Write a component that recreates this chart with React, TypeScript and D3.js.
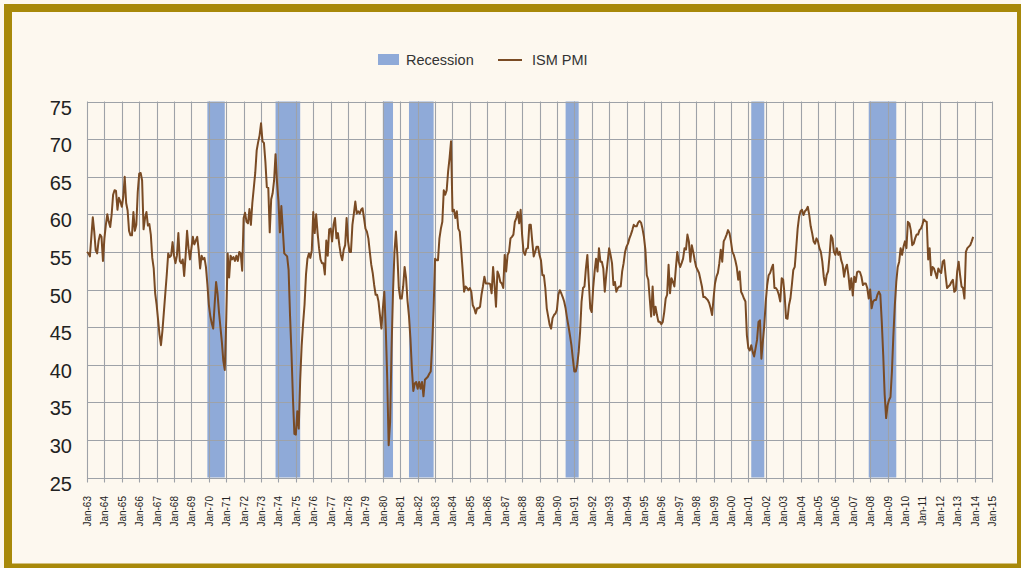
import React, { useEffect, useRef } from 'react';
import * as d3 from 'd3';

const WIDTH = 1021;
const HEIGHT = 568;
const PLOT = { left: 87, right: 992, top: 101.5, bottom: 477.5 };

const FIRST_YEAR = 1963;
const LAST_YEAR = 2015;

const yTicks = [25, 30, 35, 40, 45, 50, 55, 60, 65, 70, 75];

// NBER recessions, first and last month
const recessionStart = ['1969-12', '1973-11', '1980-01', '1981-07', '1990-07', '2001-03', '2007-12'];
const recessionEnd = ['1970-11', '1975-03', '1980-07', '1982-11', '1991-03', '2001-11', '2009-06'];

// ISM PMI, monthly from Jan 1963
const pmi = [
  55.0, 54.8, 54.4, 57.0, 59.6, 57.7, 55.2, 54.8, 56.5, 57.3, 57.0, 53.8, // 1963
  56.8, 58.6, 60.0, 59.0, 58.3, 60.0, 62.6, 63.2, 63.1, 60.6, 62.2, 61.7, // 1964
  61.0, 62.3, 65.0, 61.5, 60.5, 57.8, 57.2, 57.2, 60.3, 57.8, 58.6, 63.0, // 1965
  65.4, 65.5, 64.5, 58.0, 59.5, 60.3, 58.5, 58.7, 57.3, 54.2, 52.8, 49.5, // 1966
  48.0, 46.0, 44.0, 42.6, 44.5, 47.0, 49.5, 52.0, 54.8, 54.3, 54.5, 56.3, // 1967
  54.5, 53.5, 54.5, 57.5, 53.8, 53.5, 54.0, 51.8, 54.5, 57.8, 55.5, 54.0, // 1968
  55.5, 57.0, 56.0, 56.5, 57.0, 55.2, 52.8, 54.5, 54.0, 54.2, 53.0, 50.7, // 1969
  48.0, 46.5, 45.5, 44.8, 48.0, 51.0, 49.5, 47.0, 45.0, 43.0, 40.5, 39.3, // 1970
  46.0, 54.8, 51.6, 54.5, 54.0, 54.3, 53.8, 54.5, 53.8, 55.0, 54.8, 52.5, // 1971
  59.5, 60.2, 59.0, 58.8, 60.7, 58.6, 61.5, 63.5, 65.5, 68.5, 69.6, 70.5, // 1972
  72.1, 69.7, 69.5, 67.0, 63.6, 63.5, 57.6, 62.0, 62.8, 64.5, 68.0, 64.3, // 1973
  61.8, 57.6, 61.1, 58.0, 54.8, 54.6, 54.4, 52.6, 46.5, 41.5, 35.5, 30.8, // 1974
  30.7, 33.8, 31.5, 38.0, 42.5, 45.5, 48.0, 52.0, 54.1, 54.8, 54.2, 55.2, // 1975
  60.3, 57.5, 60.0, 57.5, 55.5, 54.0, 53.5, 53.5, 52.0, 56.5, 54.5, 58.0, // 1976
  58.1, 56.4, 58.6, 59.5, 56.8, 57.5, 55.9, 54.6, 53.9, 55.3, 55.9, 59.5, // 1977
  56.4, 55.0, 55.0, 58.6, 60.1, 61.7, 60.1, 60.4, 60.1, 60.6, 60.8, 59.5, // 1978
  58.1, 57.7, 56.8, 55.0, 53.3, 52.2, 50.6, 49.3, 49.3, 48.4, 46.6, 44.8, // 1979
  47.5, 49.7, 44.8, 38.2, 29.3, 32.4, 42.2, 49.7, 55.0, 57.7, 54.6, 50.2, // 1980
  48.8, 48.8, 50.4, 53.0, 51.5, 48.5, 46.5, 43.5, 39.5, 36.5, 37.5, 37.7, // 1981
  36.8, 37.7, 36.8, 37.7, 35.8, 38.0, 38.2, 38.4, 38.8, 39.1, 42.6, 47.5, // 1982
  54.1, 53.9, 53.9, 56.8, 58.1, 59.0, 63.2, 62.6, 63.2, 65.7, 67.5, 69.7, // 1983
  60.4, 60.6, 59.5, 60.4, 58.1, 57.7, 55.3, 52.6, 49.7, 50.4, 50.2, 49.9, // 1984
  50.2, 49.7, 47.9, 47.5, 46.8, 47.5, 47.5, 47.7, 49.3, 50.4, 51.7, 50.8, // 1985
  50.8, 50.8, 50.7, 49.5, 53.0, 50.6, 47.7, 52.4, 51.9, 51.0, 50.8, 50.2, // 1986
  54.6, 52.4, 54.6, 55.0, 56.8, 57.0, 57.3, 59.0, 59.5, 60.3, 58.8, 60.6, // 1987
  57.3, 55.0, 54.6, 55.4, 55.5, 58.6, 58.6, 56.4, 54.4, 55.0, 55.7, 55.7, // 1988
  54.6, 53.9, 51.9, 51.9, 50.2, 47.5, 46.4, 45.3, 44.8, 46.2, 46.6, 46.8, // 1989
  47.3, 49.3, 49.9, 49.5, 49.0, 48.4, 47.5, 46.2, 45.1, 43.9, 42.6, 40.8, // 1990
  39.1, 39.1, 40.0, 41.7, 44.4, 48.4, 50.2, 50.4, 52.8, 54.6, 51.0, 47.5, // 1991
  47.0, 50.2, 52.4, 54.1, 52.4, 55.5, 53.7, 53.7, 52.8, 49.7, 51.9, 53.7, // 1992
  55.5, 54.6, 53.5, 50.6, 51.0, 49.7, 50.2, 50.4, 50.4, 52.4, 53.5, 55.0, // 1993
  55.7, 56.1, 56.8, 57.3, 57.9, 58.6, 58.4, 58.4, 58.9, 59.1, 58.9, 58.1, // 1994
  57.0, 55.3, 51.9, 51.3, 48.8, 46.4, 50.4, 46.6, 47.7, 46.6, 45.7, 45.7, // 1995
  45.4, 45.7, 47.0, 48.8, 49.3, 53.3, 49.5, 51.5, 51.0, 50.4, 52.8, 55.0, // 1996
  53.7, 53.0, 53.5, 54.1, 55.5, 55.3, 57.3, 56.4, 53.7, 55.9, 55.0, 53.9, // 1997
  53.0, 52.6, 52.2, 51.3, 50.4, 49.0, 49.0, 48.8, 48.6, 48.2, 47.5, 46.6, // 1998
  48.8, 50.8, 51.7, 52.2, 53.5, 55.3, 53.7, 56.4, 56.8, 57.3, 57.9, 57.5, // 1999
  56.4, 55.0, 54.6, 53.9, 53.0, 51.3, 52.4, 49.7, 49.3, 48.8, 48.4, 43.9, // 2000
  42.2, 41.9, 42.6, 41.7, 41.1, 42.2, 43.3, 45.7, 45.9, 40.8, 43.1, 45.3, // 2001
  48.4, 50.6, 51.9, 52.2, 52.8, 53.3, 50.2, 50.2, 49.9, 49.3, 48.4, 51.5, // 2002
  51.3, 49.3, 46.2, 46.1, 47.9, 48.8, 50.6, 52.6, 53.0, 55.5, 58.1, 59.7, // 2003
  60.4, 60.6, 59.9, 60.4, 60.6, 61.0, 59.9, 58.4, 57.5, 56.4, 56.1, 56.8, // 2004
  56.4, 55.5, 55.0, 53.7, 51.7, 50.6, 51.9, 52.4, 54.5, 57.2, 56.8, 55.0, // 2005
  54.6, 55.5, 54.6, 55.0, 53.9, 53.3, 51.7, 52.8, 53.3, 51.9, 50.0, 51.5, // 2006
  49.2, 51.7, 51.0, 52.3, 52.4, 52.3, 51.7, 50.6, 50.8, 50.8, 50.2, 48.8, // 2007
  50.0, 47.5, 48.4, 48.6, 48.6, 49.3, 49.7, 49.3, 45.7, 41.3, 36.0, 32.9, // 2008
  34.6, 35.3, 35.7, 39.1, 43.9, 47.9, 51.0, 53.0, 53.7, 55.5, 54.6, 55.7, // 2009
  56.4, 55.5, 59.0, 58.8, 57.9, 55.9, 56.1, 56.8, 57.3, 57.3, 57.9, 58.1, // 2010
  58.6, 59.3, 59.1, 59.0, 54.0, 55.5, 51.9, 53.0, 52.8, 52.2, 51.5, 52.8, // 2011
  52.4, 52.2, 53.7, 53.9, 51.9, 50.2, 50.4, 50.6, 51.0, 51.3, 49.7, 49.9, // 2012
  52.4, 53.7, 51.9, 50.4, 50.2, 48.8, 55.0, 55.5, 55.7, 55.9, 56.4, 57.0, // 2013
];

const BG = '#fdf8ef';
const GOLD = '#a8890a';
const GRID = '#9ea2a8';
const BAR = '#8faad8';
const LINE = '#7a4b24';
const FONT = 'Liberation Sans, Arial, sans-serif';

function monthToYear(s: string) {
  const [y, m] = s.split('-').map(Number);
  return y + (m - 1) / 12;
}

export default function App() {
  const svgRef = useRef<SVGSVGElement | null>(null);

  useEffect(() => {
    const svg = d3.select(svgRef.current);
    svg.selectAll('*').remove();

    const x = d3.scaleLinear().domain([FIRST_YEAR, LAST_YEAR]).range([PLOT.left, PLOT.right]);
    const y = d3.scaleLinear().domain([25, 75]).range([PLOT.bottom, PLOT.top]);

    svg.append('rect').attr('width', WIDTH).attr('height', HEIGHT).attr('fill', BG);
    svg.append('rect')
      .attr('x', 8).attr('y', 8)
      .attr('width', 1013).attr('height', 559.5)
      .attr('fill', 'none')
      .attr('stroke', GOLD)
      .attr('stroke-width', 8);

    // recession bars
    svg.append('g')
      .selectAll('rect')
      .data(recessionStart.map((s, i) => ({ s, e: recessionEnd[i] })))
      .join('rect')
      .attr('x', (d) => x(monthToYear(d.s)))
      .attr('width', (d) => x(monthToYear(d.e) + 1 / 12) - x(monthToYear(d.s)))
      .attr('y', PLOT.top)
      .attr('height', PLOT.bottom - PLOT.top)
      .attr('fill', BAR);

    const years = d3.range(FIRST_YEAR, LAST_YEAR + 1);

    // grid
    const grid = svg.append('g').attr('stroke', GRID).attr('stroke-width', 1.1);
    grid.selectAll('line.v')
      .data(years)
      .join('line')
      .attr('class', 'v')
      .attr('x1', (d) => Math.round(x(d)) + 0.5)
      .attr('x2', (d) => Math.round(x(d)) + 0.5)
      .attr('y1', PLOT.top)
      .attr('y2', PLOT.bottom + 5);
    grid.selectAll('line.h')
      .data(yTicks)
      .join('line')
      .attr('class', 'h')
      .attr('x1', PLOT.left)
      .attr('x2', PLOT.right + 0.5)
      .attr('y1', (d) => Math.round(y(d)) + 0.5)
      .attr('y2', (d) => Math.round(y(d)) + 0.5);

    // PMI line
    const line = d3.line<number>()
      .x((d, i) => x(FIRST_YEAR + i / 12))
      .y((d) => y(d));
    svg.append('path')
      .datum(pmi)
      .attr('fill', 'none')
      .attr('stroke', LINE)
      .attr('stroke-width', 2)
      .attr('stroke-linejoin', 'round')
      .attr('d', line);

    // y labels
    svg.append('g')
      .selectAll('text')
      .data(yTicks)
      .join('text')
      .attr('x', 72)
      .attr('y', (d) => y(d) + 13)
      .attr('text-anchor', 'end')
      .attr('font-family', FONT)
      .attr('font-size', 20)
      .attr('fill', '#222')
      .text((d) => d);

    // x labels
    svg.append('g')
      .selectAll('text')
      .data(years)
      .join('text')
      .attr('transform', (d) => `translate(${Math.round(x(d)) + 4},496) rotate(-90)`)
      .attr('text-anchor', 'end')
      .attr('font-family', FONT)
      .attr('font-size', 10)
      .attr('fill', '#222')
      .text((d) => `Jan-${String(d % 100).padStart(2, '0')}`);

    // legend
    const lg = svg.append('g').attr('font-family', FONT).attr('font-size', 14.5).attr('fill', '#333');
    lg.append('rect').attr('x', 378).attr('y', 54).attr('width', 21).attr('height', 11).attr('fill', BAR);
    lg.append('text').attr('x', 406).attr('y', 64.5).text('Recession');
    lg.append('line').attr('x1', 498).attr('x2', 522).attr('y1', 60).attr('y2', 60)
      .attr('stroke', LINE).attr('stroke-width', 2);
    lg.append('text').attr('x', 532).attr('y', 64.5).text('ISM PMI');
  }, []);

  return (
    <div style={{ position: 'absolute', left: 0, top: 0 }}>
      <svg ref={svgRef} width={WIDTH} height={HEIGHT} style={{ display: 'block' }} />
    </div>
  );
}
